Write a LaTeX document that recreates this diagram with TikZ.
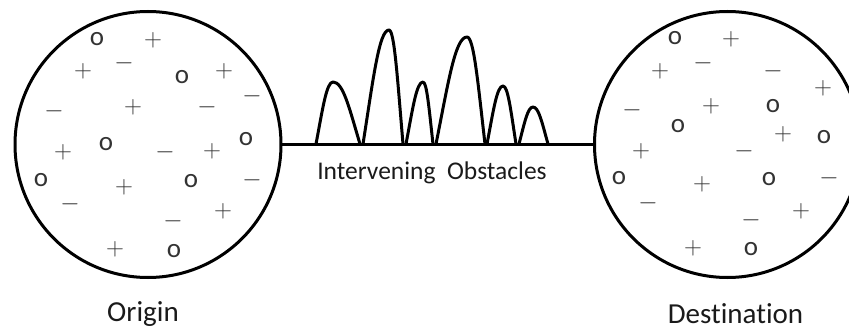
\documentclass[tikz,border=0pt]{standalone}
\usepackage{fontspec}
\setmainfont[Ligatures=NoCommon]{Carlito}
\definecolor{symcol}{HTML}{333333}
\definecolor{txtcol}{HTML}{1A1A1A}
\newcommand\symP{$+$}
\newcommand\symM{$-$}
\newcommand\symO{o}
% obstacle: start x, top x, top y, end x (baseline y = 144)
\newcommand\obst[4]{%
  \draw[ln,line join=round] (#1,144)
    .. controls ({#1+0.4*(#2-#1)},{144-0.58*(144-#3)}) and ({#2-0.38*(#2-#1)},#3) .. (#2,#3)
    .. controls ({#2+0.38*(#4-#2)},#3) and ({#4-0.4*(#4-#2)},{144-0.58*(144-#3)}) .. (#4,144);}
\begin{document}
\begin{tikzpicture}[x=1pt,y=-1pt,
  ln/.style={line width=3pt,black},
  ball/.style={circle,draw,line width=3pt,minimum size=266pt,inner sep=0pt,outer sep=0pt},
  sym/.style={inner sep=0pt,text=symcol,font=\fontsize{28}{30}\selectfont},
  symo/.style={inner sep=0pt,text=symcol,font=\fontsize{27}{29}\selectfont},
  lbl/.style={inner sep=0pt,anchor=base,text=txtcol,font=\fontsize{29}{32}\selectfont},
  mid/.style={inner sep=0pt,anchor=base,text=txtcol,font=\fontsize{25.5}{28}\selectfont}]
\useasboundingbox (0,0) rectangle (849,329);
\clip (0,0) rectangle (849,329);
\node[ball] (origin) at (148,144.5) {};
\node[ball] (dest) at (727.5,144.5) {};
\draw[ln] (origin.east) -- (dest.west);
% obstacles
\obst{316}{333}{82}{360}
\obst{363}{389}{30}{403}
\obst{406}{423}{82}{433}
\obst{436}{467}{37}{485}
\obst{487}{503}{86}{516}
\obst{519}{533}{107}{548}
% symbols in origin
\foreach \x/\y/\s [count=\i] in {
  153/40/\symP, 83/71/\symP, 124/63/\symM, 224/71/\symP, 252/96/\symM,
  54/111/\symM, 133/107/\symP, 207/107/\symM, 63/152/\symP, 165/152/\symM,
  212/151/\symP, 124/187/\symP, 252/180/\symM, 70/204/\symM, 173/221/\symM,
  223/211/\symP, 115/249/\symP}
  \node[sym] (lp\i) at (\x,\y) {\s};
\foreach \x/\y [count=\i] in {97/39, 182/77, 106/144, 246/139, 41/180, 191/181, 174/251}
  \node[symo] (lo\i) at (\x,\y) {\symO};
% symbols in destination
\foreach \x/\y/\s [count=\i] in {
  731/39/\symP, 660/71/\symP, 703/63/\symM, 773/71/\symM, 823/88/\symP,
  632/110/\symM, 711/106/\symP, 783/134/\symP, 641/151/\symP, 744/151/\symM,
  702/184/\symP, 829/178/\symM, 648/203/\symM, 751/220/\symM, 801/211/\symP,
  693/248/\symP}
  \node[sym] (rp\i) at (\x,\y) {\s};
\foreach \x/\y [count=\i] in {675/38, 773/106, 678/126, 824/137, 619/178, 769/179, 751/249}
  \node[symo] (ro\i) at (\x,\y) {\symO};
% labels
\node[mid] (obst) at (432,179) {Intervening\ \ Obstacles};
\node[lbl] (olab) at (143,321) {Origin};
\node[lbl] (dlab) at (735.5,323) {Destination};
\end{tikzpicture}
\end{document}
